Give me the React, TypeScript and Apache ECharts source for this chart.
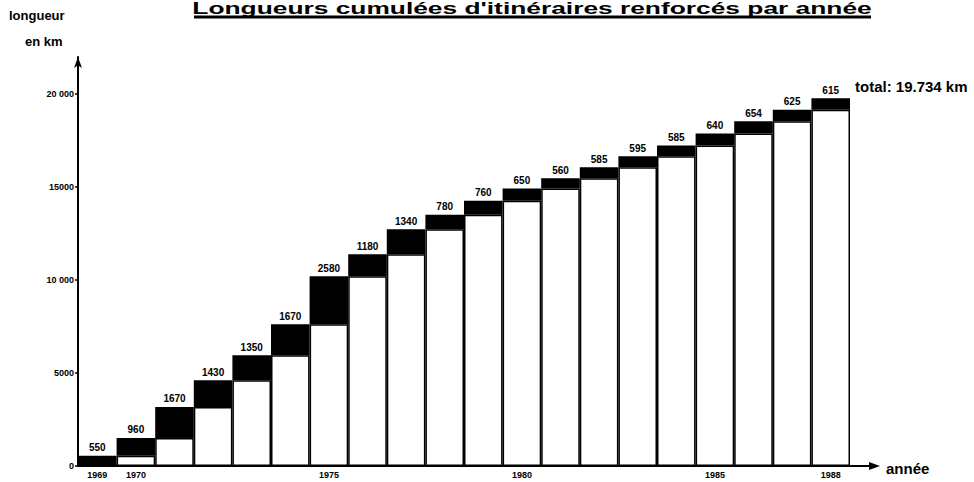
import React, { useEffect, useRef } from "react";
import * as echarts from "echarts";

const years = ["1969","1970","1971","1972","1973","1974","1975","1976","1977","1978","1979","1980","1981","1982","1983","1984","1985","1986","1987","1988"];
const increments = [550, 960, 1670, 1430, 1350, 1670, 2580, 1180, 1340, 780, 760, 650, 560, 585, 595, 585, 640, 654, 625, 615];
const shownYears = ["1969", "1970", "1975", "1980", "1985", "1988"];
const yTickValues = [0, 5000, 10000, 15000, 20000];
const yTickLabels = ["0", "5000", "10 000", "15000", "20 000"];
const titleText = "Longueurs cumulées d'itinéraires renforcés par année";
const totalText = "total: 19.734 km";

export default function App() {
  const ref = useRef<HTMLDivElement>(null);
  useEffect(() => {
    if (!ref.current) return;
    const chart = echarts.init(ref.current, null, { renderer: "svg" });
    const base: number[] = [];
    let acc = 0;
    for (const v of increments) {
      base.push(acc);
      acc += v;
    }
    const font = "Liberation Sans, Arial, sans-serif";
    chart.setOption({
      animation: false,
      backgroundColor: "#ffffff",
      grid: { left: 78, right: 124, top: 57, bottom: 16, containLabel: false },
      xAxis: {
        type: "category",
        data: years,
        axisLine: { show: true, lineStyle: { color: "#000", width: 2 } },
        axisTick: { show: false },
        axisLabel: {
          interval: 0,
          margin: 4,
          fontSize: 9,
          fontWeight: "bold",
          fontFamily: font,
          color: "#000",
          formatter: (v: string) => (shownYears.includes(v) ? v : ""),
        },
        splitLine: { show: false },
      },
      yAxis: {
        type: "value",
        min: 0,
        max: 22000,
        axisLine: {
          show: true,
          symbol: ["none", "arrow"],
          symbolSize: [6, 11],
          lineStyle: { color: "#000", width: 2 },
        },
        axisTick: { show: true, length: 3, customValues: yTickValues, lineStyle: { color: "#000", width: 1.5 } },
        axisLabel: {
          customValues: yTickValues,
          margin: 4,
          fontSize: 9,
          fontWeight: "bold",
          fontFamily: font,
          color: "#000",
          formatter: (v: number) => {
            const i = yTickValues.indexOf(v);
            return i >= 0 ? yTickLabels[i] : "";
          },
        },
        splitLine: { show: false },
      },
      series: [
        {
          type: "bar",
          stack: "total",
          data: base,
          barCategoryGap: "0%",
          itemStyle: { color: "#ffffff", borderColor: "#000", borderWidth: 1.5 },
          silent: true,
        },
        {
          type: "bar",
          stack: "total",
          data: increments,
          barCategoryGap: "0%",
          itemStyle: { color: "#000000", borderColor: "#000", borderWidth: 1.5 },
          label: {
            show: true,
            position: "top",
            distance: 3,
            fontSize: 10,
            fontWeight: "bold",
            fontFamily: font,
            color: "#000",
          },
          silent: true,
        },
      ],
      graphic: [
        {
          type: "text",
          x: 532,
          y: 0,
          scaleX: 1.55,
          style: {
            x: 0,
            y: 0,
            text: titleText,
            fontSize: 17,
            fontWeight: "bold",
            fontFamily: font,
            fill: "#000",
            textAlign: "center",
            textVerticalAlign: "top",
          },
        },
        {
          type: "line",
          shape: { x1: 194, y1: 17, x2: 871, y2: 17 },
          style: { stroke: "#000", lineWidth: 3 },
        },
        {
          type: "text",
          style: { x: 9, y: 15, text: "longueur", fontSize: 13, fontWeight: "bold", fontFamily: font, fill: "#000", textVerticalAlign: "middle" },
        },
        {
          type: "text",
          style: { x: 25, y: 41, text: "en km", fontSize: 13, fontWeight: "bold", fontFamily: font, fill: "#000", textVerticalAlign: "middle" },
        },
        {
          type: "text",
          style: { x: 855, y: 86, text: totalText, fontSize: 15, fontWeight: "bold", fontFamily: font, fill: "#000", textVerticalAlign: "middle" },
        },
        {
          type: "text",
          style: { x: 886, y: 468, text: "année", fontSize: 15, fontWeight: "bold", fontFamily: font, fill: "#000", textVerticalAlign: "middle" },
        },
        {
          type: "line",
          shape: { x1: 849, y1: 466, x2: 872, y2: 466 },
          style: { stroke: "#000", lineWidth: 2 },
        },
        {
          type: "polygon",
          shape: { points: [[880, 466], [869, 462], [869, 470]] },
          style: { fill: "#000" },
        },
      ],
    });
    return () => chart.dispose();
  }, []);
  return (
    <div
      ref={ref}
      style={{ position: "fixed", left: 0, top: 0, width: 974, height: 482, background: "#fff" }}
    />
  );
}
